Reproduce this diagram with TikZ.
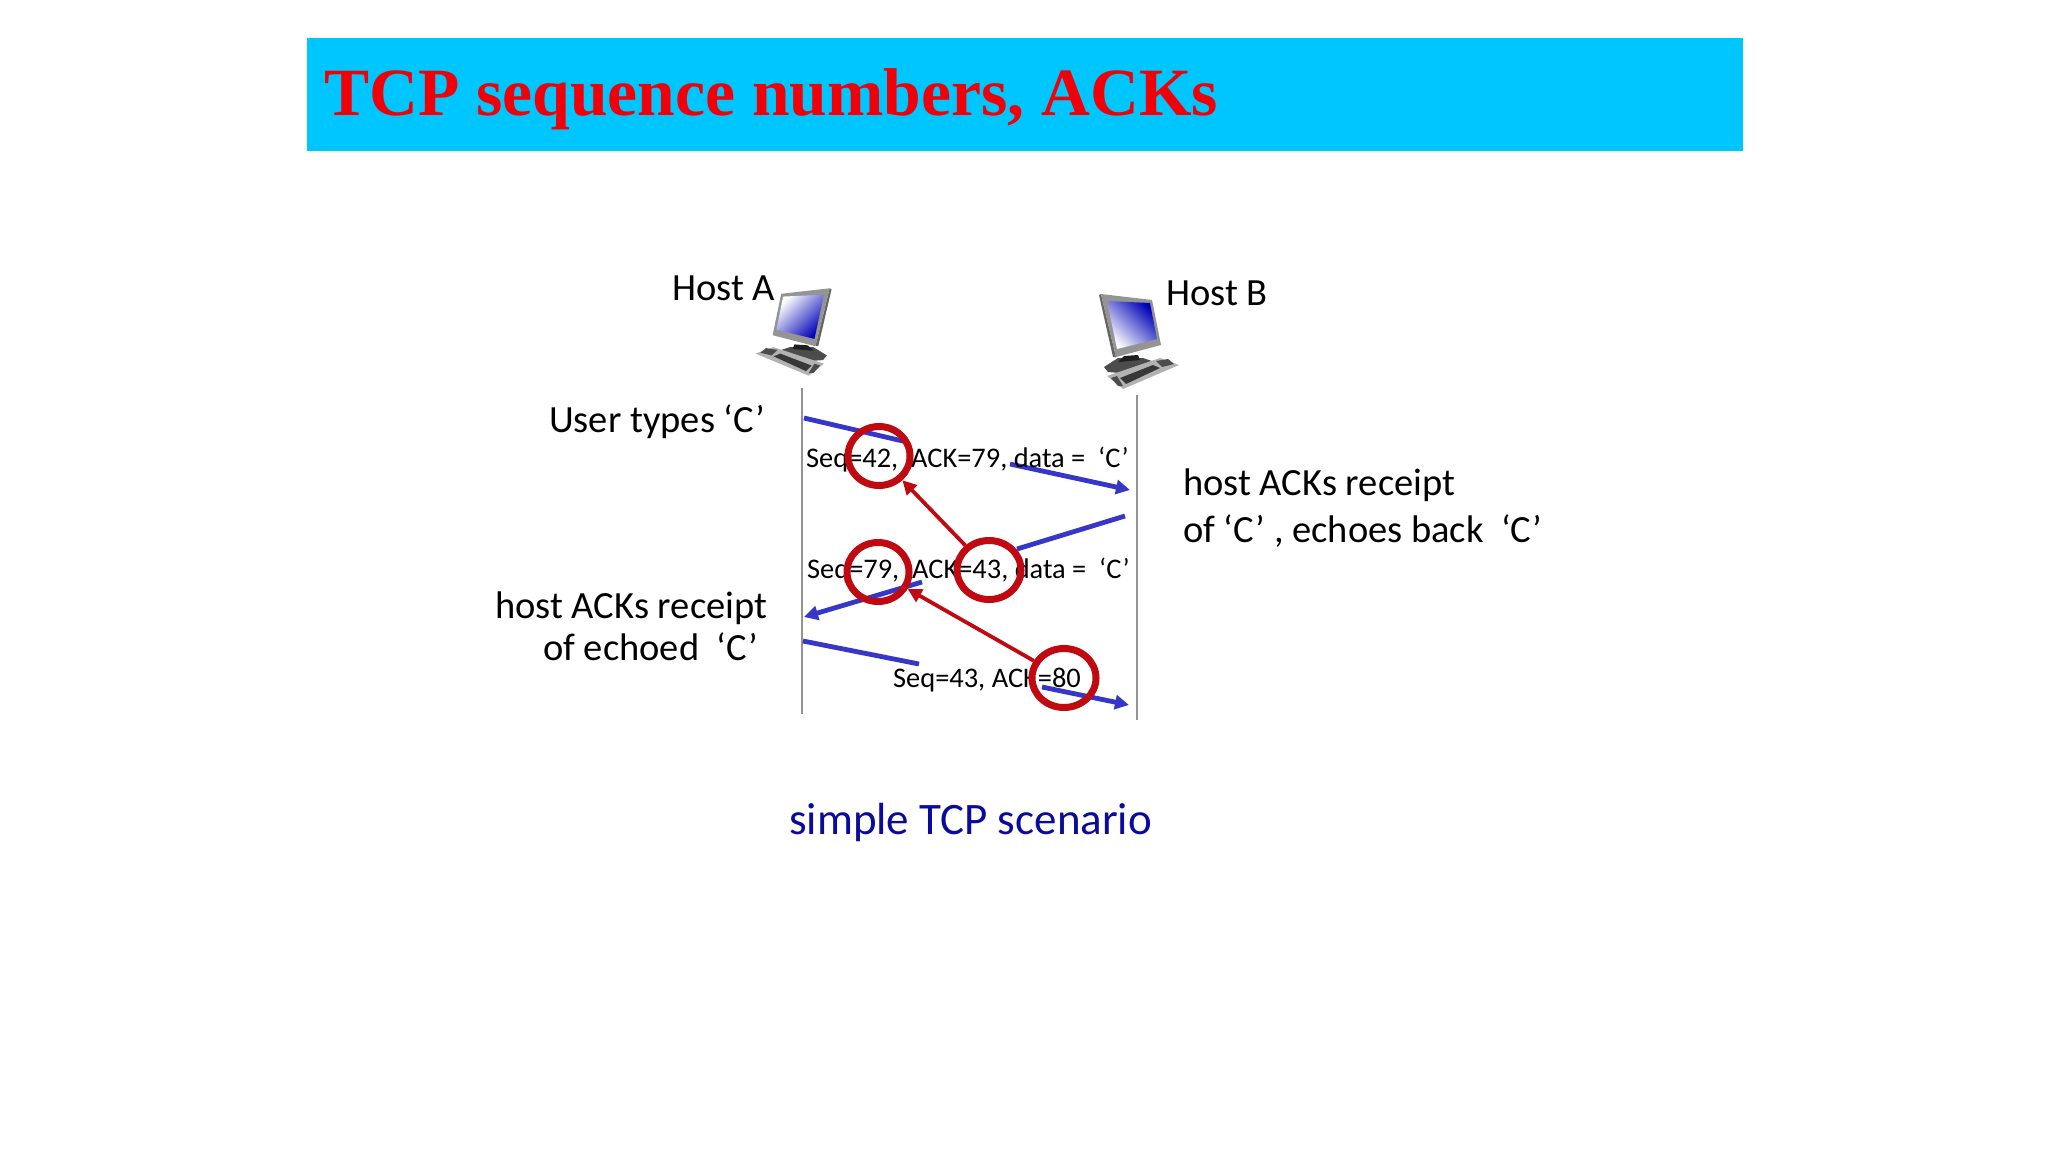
\documentclass[tikz,border=0pt]{standalone}
\usepackage{fontspec}
\setmainfont{Carlito}
\newfontfamily\titlefont{Liberation Serif}
\usetikzlibrary{arrows.meta,shapes.geometric}

\definecolor{bandblue}{HTML}{00C6FF}
\definecolor{titlered}{HTML}{F00008}
\definecolor{msgblue}{HTML}{3636C8}
\definecolor{ringred}{HTML}{BE0A10}
\definecolor{captionblue}{HTML}{0A0A9C}

\tikzset{
    hostlabel/.style={inner sep=0pt,anchor=base west,font=\fontsize{38.5}{46}\selectfont},
    msglabel/.style={inner sep=0pt,anchor=base west,font=\fontsize{28.4}{34}\selectfont},
    timeline/.style={draw=black!42,line width=1.6pt},
    msgline/.style={draw=msgblue,line width=4.8pt},
    msgarrow/.style={msgline,-{Triangle[length=14pt,width=14pt]}},
    ringmark/.style={draw=ringred,line width=7pt,ellipse,minimum width=62pt,minimum height=59pt,inner sep=0pt},
    ringarrow/.style={draw=ringred,line width=3.8pt,-{Triangle[length=14pt,width=14pt]}},
    pics/hostpc/.style={code={
        \fill[black!60] (19,25) -- (21,24) -- (36,87) -- (33,87) -- cycle;
        \fill[black!42] (21,24) -- (72,30) -- (81,75) -- (36,87) -- cycle;
        \shade[left color=white,middle color=blue!16!white,right color=blue!72!black,shading angle=#1] (27,31) -- (70,33) -- (77,69) -- (37,79) -- cycle;
        \fill[black!70] (24,97) -- (38,88) -- (63,88) -- (72,91) -- (40,103) -- (28,102) -- cycle;
        \fill[black!88] (38,92) -- (44,86) -- (58,85) -- (60,90) -- cycle;
        \fill[black!30] (27,106) -- (80,88) -- (99,95) -- (43,119) -- cycle;
        \fill[black!78] (40,108) -- (73,95) -- (80,98) -- (46,114) -- cycle;
        \fill[black!70] (76,91) -- (88,89) -- (94,94) -- (82,97) -- cycle;
        \fill[black!70] (31,108) -- (37,106) -- (43,116) -- (38,116) -- cycle;
    }}
}

\begin{document}
\begin{tikzpicture}[x=1pt,y=-1pt]
\useasboundingbox (0,0) rectangle (2048,1152);

% title band
\node[fill=bandblue,minimum width=1436pt,minimum height=113pt,inner sep=0pt,anchor=north west] (band) at (307,38) {};
\node[inner sep=0pt,anchor=base west,text=titlered,font=\titlefont\bfseries\fontsize{67.6}{80}\selectfont] (title) at (324,115) {TCP sequence numbers, ACKs};

% hosts
\pic[xscale=-.95,yscale=.92] (pcA) at (849.6,266.2) {hostpc=45};
\pic (pcB) at (1080,270) {hostpc=135};
\node[hostlabel] (hostA) at (672,300) {Host A};
\node[hostlabel] (hostB) at (1166,305) {Host B};

% time lines
\coordinate (topA) at (802,388);
\coordinate (botA) at (802,714);
\coordinate (topB) at (1137,395);
\coordinate (botB) at (1137,720);
\draw[timeline] (topA) -- (botA);
\draw[timeline] (topB) -- (botB);

% segments
\coordinate (m1a) at (804,418);
\coordinate (m1b) at (907,442);
\coordinate (m1c) at (1010,464);
\coordinate (m1d) at (1130,490);
\coordinate (m2a) at (1125,516);
\coordinate (m2b) at (1017,549);
\coordinate (m2c) at (922,582);
\coordinate (m2d) at (804,617);
\coordinate (m3a) at (803,641);
\coordinate (m3b) at (919,664);
\coordinate (m3c) at (1042,687);
\coordinate (m3d) at (1129,705);
\draw[msgline] (m1a) -- (m1b);
\draw[msgarrow] (m1c) -- (m1d);
\draw[msgline] (m2a) -- (m2b);
\draw[msgarrow] (m2c) -- (m2d);
\draw[msgline] (m3a) -- (m3b);
\draw[msgarrow] (m3c) -- (m3d);

\node[msglabel] (msg1) at (806,467) {Seq=42,\ \ ACK=79, data =\ \ ‘C’};
\node[msglabel] (msg2) at (807,578) {Seq=79,\ \ ACK=43, data =\ \ ‘C’};
\node[msglabel] (msg3) at (893,687) {Seq=43, ACK=80};

% side notes
\node[hostlabel] (usertypes) at (549,432) {User types ‘C’};
\node[hostlabel] (recvB1) at (1183,495) {host ACKs receipt};
\node[hostlabel] (recvB2) at (1183,542) {of ‘C’ , echoes back\ \ ‘C’};
\node[hostlabel] (recvA1) at (495,618) {host ACKs receipt};
\node[hostlabel] (recvA2) at (543,660) {of echoed\ \ ‘C’};
\node[hostlabel,text=captionblue,font=\fontsize{45}{54}\selectfont] (caption) at (789,834) {simple TCP scenario};

% rings
\node[ringmark] (seq42) at (879,456) {};
\node[ringmark] (seq79) at (878,572) {};
\node[ringmark,minimum width=64pt] (ack43) at (989,570) {};
\node[ringmark,minimum width=64pt] (ack80) at (1064,678) {};
\draw[ringarrow] (ack43) -- (seq42);
\draw[ringarrow] (ack80) -- (seq79);

\end{tikzpicture}
\end{document}
